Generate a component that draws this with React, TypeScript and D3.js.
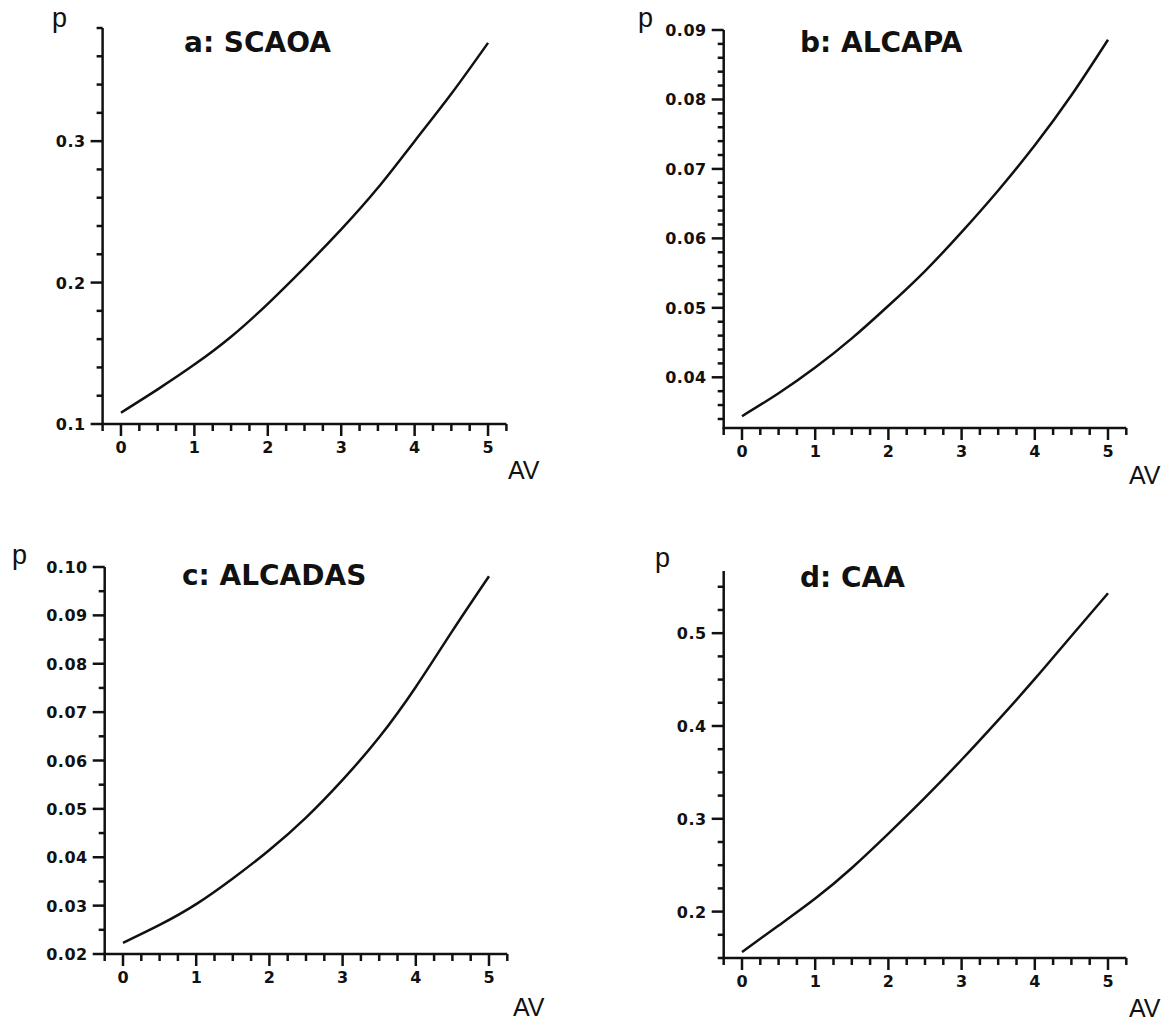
import React from "react";
import * as d3 from "d3";

const avValues = [0, 0.5, 1, 1.5, 2, 2.5, 3, 3.5, 4, 4.5, 5];

// p
const scaoa = [0.108, 0.1245, 0.142, 0.1617, 0.185, 0.2106, 0.2376, 0.267, 0.3, 0.3335, 0.3695];
const alcapa = [0.0344, 0.0377, 0.0414, 0.0456, 0.0503, 0.0553, 0.0609, 0.0669, 0.0734, 0.0806, 0.0886];
const alcadas = [0.0223, 0.026, 0.0303, 0.0356, 0.0415, 0.0482, 0.056, 0.0648, 0.0752, 0.0868, 0.0981];
const caa = [0.1565, 0.185, 0.214, 0.247, 0.284, 0.3227, 0.3636, 0.4064, 0.4507, 0.497, 0.543];

// axis ticks
const xTicks = [0, 1, 2, 3, 4, 5];
const yTicksA = [0.1, 0.2, 0.3];
const yTicksB = [0.04, 0.05, 0.06, 0.07, 0.08, 0.09];
const yTicksC = [0.02, 0.03, 0.04, 0.05, 0.06, 0.07, 0.08, 0.09, 0.1];
const yTicksD = [0.2, 0.3, 0.4, 0.5];

const titles = ["a: SCAOA", "b: ALCAPA", "c: ALCADAS", "d: CAA"];

const ink = "#111";
const boldFont = "'DejaVu Sans', 'Liberation Sans', sans-serif";
const plainFont = "'Liberation Sans', Arial, sans-serif";

type PanelProps = {
  title: string;
  values: number[];
  yDomain: [number, number];
  yTicks: number[];
  yMinorStep: number;
  yFmt: string;
  xRange: [number, number];
  yRange: [number, number];
  titleX: number;
  titleY: number;
  pX: number;
  pY: number;
  avX: number;
  avY: number;
};

const Panel = (props: PanelProps) => {
  const { values, yDomain, yTicks, yMinorStep, yFmt, xRange, yRange } = props;
  const x = d3.scaleLinear().domain([-0.25, 5.25]).range(xRange);
  const y = d3.scaleLinear().domain(yDomain).range(yRange);
  const fmt = d3.format(yFmt);

  const x0 = x(-0.25);
  const y0 = y(yDomain[0]);

  // minor ticks
  const xMinor = d3.range(-0.25, 5.26, 0.25).filter(v => Math.abs(v - Math.round(v)) > 0.01);
  const start = Math.ceil(yDomain[0] / yMinorStep - 1e-6) * yMinorStep;
  const yMinor = d3
    .range(start, yDomain[1] + 1e-9, yMinorStep)
    .filter(v => !yTicks.some(t => Math.abs(t - v) < 1e-6));

  const line = d3
    .line<number>()
    .x((_, i) => x(avValues[i]))
    .y(d => y(d))
    .curve(d3.curveNatural);

  return (
    <g>
      {/* axes */}
      <line x1={x0} x2={x0} y1={y(yDomain[1])} y2={y0 + 1} stroke={ink} strokeWidth={2.5} />
      <line x1={x0 - 1} x2={x(5.25)} y1={y0} y2={y0} stroke={ink} strokeWidth={2.5} />

      {xTicks.map(t => (
        <g key={"x" + t}>
          <line x1={x(t)} x2={x(t)} y1={y0} y2={y0 + 12} stroke={ink} strokeWidth={2.5} />
          <text x={x(t)} y={y0 + 29} textAnchor="middle" fontSize={16} fontWeight="bold" fontFamily={boldFont} fill={ink}>
            {t}
          </text>
        </g>
      ))}
      {xMinor.map(t => (
        <line key={"xm" + t} x1={x(t)} x2={x(t)} y1={y0} y2={y0 + 7} stroke={ink} strokeWidth={2.5} />
      ))}

      {yTicks.map(t => (
        <g key={"y" + t}>
          <line x1={x0 - 12} x2={x0} y1={y(t)} y2={y(t)} stroke={ink} strokeWidth={2.5} />
          <text
            x={x0 - 17}
            y={y(t) + 6}
            textAnchor="end"
            fontSize={16}
            fontWeight="bold"
            fontFamily={boldFont}
            letterSpacing={0.5}
            fill={ink}
          >
            {fmt(t)}
          </text>
        </g>
      ))}
      {yMinor.map(t => (
        <line key={"ym" + t} x1={x0 - 6} x2={x0} y1={y(t)} y2={y(t)} stroke={ink} strokeWidth={2.5} />
      ))}

      <path d={line(values) || ""} fill="none" stroke={ink} strokeWidth={2.5} />

      <text x={props.titleX} y={props.titleY} fontSize={28} fontWeight="bold" fontFamily={boldFont} fill={ink}>
        {props.title}
      </text>
      <text x={props.pX} y={props.pY} fontSize={27} fontFamily={plainFont} fill={ink}>
        p
      </text>
      <text x={props.avX} y={props.avY} fontSize={25} fontFamily={plainFont} fill={ink}>
        AV
      </text>
    </g>
  );
};

const App = () => {
  return (
    <svg width={1169} height={1025} style={{ position: "absolute", left: 0, top: 0, background: "#fff" }}>
      <rect width={1169} height={1025} fill="#fff" />
      <Panel
        title={titles[0]}
        values={scaoa}
        yDomain={[0.1, 0.38]}
        yTicks={yTicksA}
        yMinorStep={0.02}
        yFmt=".1f"
        xRange={[102.6, 506.4]}
        yRange={[424, 28]}
        titleX={184}
        titleY={52}
        pX={52}
        pY={27}
        avX={508}
        avY={479}
      />
      <Panel
        title={titles[1]}
        values={alcapa}
        yDomain={[0.0327, 0.09]}
        yTicks={yTicksB}
        yMinorStep={0.002}
        yFmt=".2f"
        xRange={[723.7, 1126.3]}
        yRange={[428, 30]}
        titleX={800}
        titleY={52}
        pX={638}
        pY={27}
        avX={1129}
        avY={484}
      />
      <Panel
        title={titles[2]}
        values={alcadas}
        yDomain={[0.02, 0.1]}
        yTicks={yTicksC}
        yMinorStep={0.005}
        yFmt=".2f"
        xRange={[104.7, 507.3]}
        yRange={[954, 567]}
        titleX={182}
        titleY={585}
        pX={12}
        pY={564}
        avX={513}
        avY={1016}
      />
      <Panel
        title={titles[3]}
        values={caa}
        yDomain={[0.15, 0.567]}
        yTicks={yTicksD}
        yMinorStep={0.025}
        yFmt=".1f"
        xRange={[723.7, 1126.3]}
        yRange={[958, 571]}
        titleX={800}
        titleY={587}
        pX={655}
        pY={567}
        avX={1129}
        avY={1017}
      />
    </svg>
  );
};

export default App;
